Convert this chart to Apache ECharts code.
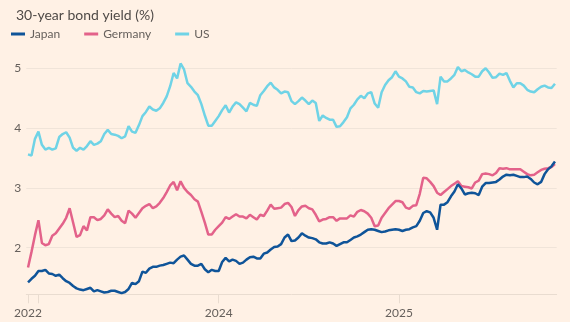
<!DOCTYPE html>
<html>
<head>
<meta charset="utf-8">
<script src="https://cdn.jsdelivr.net/npm/echarts@6/dist/echarts.min.js"></script>
<style>
  html, body { margin: 0; padding: 0; background: #fff1e5; }
  #chart { width: 570px; height: 322px; }
</style>
</head>
<body>
<div id="chart"></div>
<script>
// Weekly observations starting 2022-12-16
const startDate = '2022-12-16';
const seriesNames = ['Japan', 'Germany', 'US'];
const japan = [1.42,1.48,1.53,1.61,1.61,1.63,1.57,1.56,1.53,1.55,
  1.49,1.44,1.41,1.36,1.32,1.30,1.29,1.31,1.33,1.27,
  1.29,1.27,1.25,1.26,1.28,1.28,1.26,1.24,1.26,1.31,
  1.41,1.39,1.44,1.60,1.58,1.65,1.68,1.68,1.70,1.71,
  1.73,1.75,1.74,1.80,1.85,1.87,1.80,1.73,1.70,1.70,
  1.73,1.64,1.59,1.63,1.61,1.61,1.76,1.83,1.77,1.80,
  1.78,1.73,1.75,1.80,1.84,1.85,1.82,1.82,1.90,1.92,
  1.97,2.01,2.02,2.06,2.17,2.22,2.11,2.12,2.17,2.24,
  2.20,2.17,2.16,2.14,2.09,2.07,2.07,2.09,2.07,2.03,
  2.06,2.09,2.09,2.13,2.17,2.19,2.22,2.26,2.30,2.31,
  2.30,2.28,2.26,2.27,2.29,2.30,2.31,2.30,2.28,2.30,
  2.31,2.34,2.36,2.45,2.58,2.61,2.59,2.50,2.30,2.72,
  2.72,2.76,2.86,2.94,3.06,2.99,2.89,2.91,2.92,2.91,
  2.88,3.02,3.08,3.08,3.09,3.10,3.14,3.19,3.22,3.21,
  3.22,3.20,3.18,3.18,3.19,3.15,3.09,3.06,3.10,3.23,
  3.31,3.36,3.44];
const germany = [1.67,1.93,2.21,2.46,2.08,2.04,2.06,2.20,2.24,2.32,
  2.40,2.50,2.66,2.42,2.18,2.21,2.36,2.29,2.51,2.51,
  2.46,2.48,2.54,2.64,2.57,2.51,2.53,2.45,2.41,2.62,
  2.57,2.50,2.58,2.66,2.70,2.73,2.66,2.69,2.75,2.83,
  2.93,3.04,3.10,2.96,3.11,3.00,2.93,2.88,2.81,2.77,
  2.60,2.42,2.22,2.22,2.30,2.36,2.42,2.51,2.48,2.52,
  2.56,2.52,2.52,2.49,2.55,2.51,2.47,2.55,2.53,2.62,
  2.72,2.65,2.66,2.67,2.73,2.75,2.68,2.53,2.63,2.69,
  2.70,2.66,2.64,2.55,2.44,2.47,2.48,2.51,2.51,2.45,
  2.49,2.49,2.49,2.54,2.52,2.60,2.63,2.61,2.57,2.50,
  2.36,2.37,2.50,2.58,2.66,2.72,2.78,2.78,2.76,2.67,
  2.65,2.70,2.71,2.90,3.17,3.16,3.10,3.03,2.92,2.88,
  2.93,2.98,3.03,3.07,3.11,3.03,3.02,3.01,2.99,3.09,
  3.12,3.23,3.24,3.23,3.21,3.25,3.33,3.32,3.33,3.31,
  3.31,3.31,3.31,3.27,3.23,3.21,3.22,3.26,3.30,3.32,
  3.33,3.35,3.40];
const us = [3.56,3.54,3.82,3.94,3.72,3.64,3.67,3.64,3.66,3.85,
  3.90,3.93,3.84,3.67,3.62,3.67,3.64,3.70,3.78,3.72,
  3.74,3.78,3.90,3.97,3.90,3.89,3.87,3.83,3.86,4.03,
  3.94,3.92,4.05,4.20,4.27,4.36,4.31,4.29,4.33,4.42,
  4.53,4.70,4.92,4.83,5.08,4.98,4.75,4.69,4.61,4.55,
  4.40,4.21,4.04,4.04,4.12,4.20,4.30,4.38,4.26,4.36,
  4.43,4.40,4.34,4.28,4.42,4.39,4.37,4.55,4.62,4.70,
  4.76,4.68,4.64,4.58,4.61,4.60,4.45,4.40,4.45,4.51,
  4.46,4.40,4.46,4.42,4.12,4.21,4.17,4.14,4.14,4.02,
  4.03,4.10,4.18,4.33,4.39,4.48,4.54,4.50,4.58,4.60,
  4.41,4.34,4.60,4.72,4.80,4.85,4.95,4.86,4.83,4.78,
  4.69,4.68,4.60,4.58,4.62,4.61,4.62,4.63,4.40,4.86,
  4.78,4.78,4.83,4.89,5.02,4.95,4.97,4.93,4.90,4.86,
  4.86,4.95,5.00,4.93,4.84,4.85,4.91,4.89,4.92,4.79,
  4.68,4.75,4.75,4.71,4.64,4.61,4.60,4.65,4.69,4.71,
  4.68,4.67,4.74];
// labels shown under the ticks at: first point, then each new year
const yearLabels = ['2022', '', '2024', '2025'];
const yTicks = [2, 3, 4, 5];

// build weekly date categories
const dates = [];
{
  const d0 = new Date(startDate + 'T00:00:00Z');
  for (let i = 0; i < japan.length; i++) {
    const d = new Date(d0.getTime() + i * 7 * 86400000);
    dates.push(d.toISOString().slice(0, 10));
  }
}
const tickIdx = [0];
for (let i = 1; i < dates.length; i++) {
  if (dates[i].slice(0, 4) !== dates[i - 1].slice(0, 4)) tickIdx.push(i);
}
const labelByIdx = {};
tickIdx.forEach((t, k) => { labelByIdx[t] = yearLabels[k] || ''; });

const colors = ['#0f5499', '#e3628a', '#6fd3e6'];
const FONT = 'Lato, "Noto Sans", sans-serif';

const chart = echarts.init(document.getElementById('chart'), null, { renderer: 'canvas' });
chart.setOption({
  backgroundColor: '#fff1e5',
  animation: false,
  textStyle: { fontFamily: FONT },
  title: {
    text: '30-year bond yield (%)',
    left: 11, top: 3,
    textStyle: { fontFamily: FONT, fontSize: 14, fontWeight: 'normal', color: '#4f4a47' }
  },
  legend: {
    left: 11, top: 28, padding: 0,
    icon: 'rect', itemWidth: 14, itemHeight: 3, itemGap: 24,
    data: seriesNames,
    textStyle: { fontFamily: FONT, fontSize: 12, color: '#66605c' }
  },
  grid: { left: 26.3, right: 13.3, top: 56.3, bottom: 14.5, containLabel: false },
  xAxis: {
    type: 'category',
    data: dates,
    boundaryGap: true,
    offset: -13.2,
    axisLine: { show: true, lineStyle: { color: '#e9dcd0', width: 1 } },
    axisTick: {
      show: true, alignWithLabel: true, length: 9,
      interval: (i) => tickIdx.indexOf(i) >= 0,
      lineStyle: { color: '#e9dcd0' }
    },
    axisLabel: {
      interval: (i) => tickIdx.indexOf(i) >= 0,
      formatter: (v, i) => labelByIdx[i] || '',
      margin: 13,
      fontFamily: FONT, fontSize: 12, color: '#66605c'
    },
    splitLine: { show: false }
  },
  yAxis: {
    type: 'value',
    min: 1, max: 5.2, interval: 1,
    axisLine: { show: false },
    axisTick: { show: false },
    axisLabel: {
      showMinLabel: false, showMaxLabel: false,
      formatter: (v) => (yTicks.indexOf(v) >= 0 ? String(v) : ''),
      margin: 5, fontFamily: FONT, fontSize: 12, color: '#66605c'
    },
    splitLine: { show: true, showMinLine: false, showMaxLine: false, lineStyle: { color: '#f0e4d9', width: 1 } }
  },
  series: [
    { name: 'Japan', type: 'line', data: japan, showSymbol: false, z: 4,
      lineStyle: { color: colors[0], width: 2.5 }, itemStyle: { color: colors[0] } },
    { name: 'Germany', type: 'line', data: germany, showSymbol: false, z: 3,
      lineStyle: { color: colors[1], width: 2.5 }, itemStyle: { color: colors[1] } },
    { name: 'US', type: 'line', data: us, showSymbol: false, z: 2,
      lineStyle: { color: colors[2], width: 2.5 }, itemStyle: { color: colors[2] } }
  ]
});
</script>
</body>
</html>
